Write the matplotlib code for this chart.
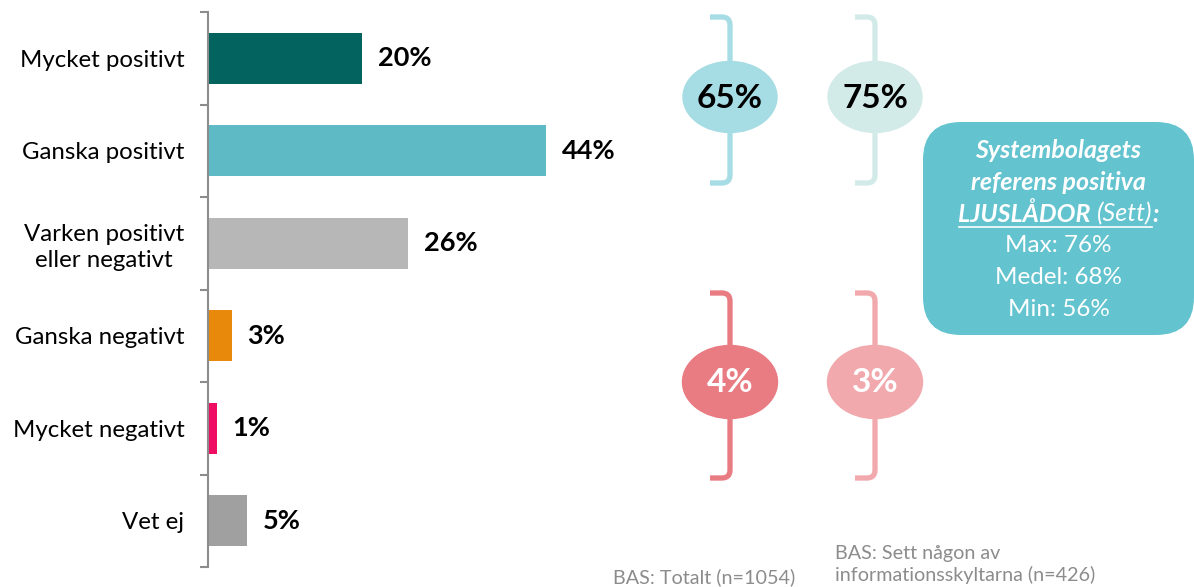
import matplotlib
matplotlib.use("Agg")
import matplotlib.pyplot as plt
from matplotlib.patches import Ellipse, FancyBboxPatch, PathPatch
from matplotlib.path import Path

# Survey answers
categories = ["Mycket positivt", "Ganska positivt", "Varken positivt\neller negativt",
              "Ganska negativt", "Mycket negativt", "Vet ej"]
shares = [20, 44, 26, 3, 1, 5]
bar_colors = ["#03635F", "#5EBBC6", "#B7B7B7", "#E8890C", "#EE0D62", "#A0A0A0"]

# Summed positive / negative shares per base
positive_totals = [65, 75]
negative_totals = [4, 3]
positive_colors = ["#A6DCE3", "#D2EAE8"]
negative_colors = ["#E97B82", "#F1A9AD"]
base_notes = ["BAS: Totalt (n=1054)", "BAS: Sett någon av\ninformationsskyltarna (n=426)"]

# Reference values for light boxes
ref_labels = ["Max", "Medel", "Min"]
ref_values = [76, 68, 56]

FONT = "Lato"
plt.rcParams["font.family"] = [FONT, "DejaVu Sans"]

W, H = 1194, 587
fig = plt.figure(figsize=(W / 100, H / 100), dpi=100)
fig.patch.set_facecolor("white")

# ---- bar chart ----
px_per_pct = 7.66
ax_left, ax_right = 208, 620
ax_top, ax_bot = 12, 567
ax = fig.add_axes([ax_left / W, (H - ax_bot) / H, (ax_right - ax_left) / W, (ax_bot - ax_top) / H])
ypos = list(range(len(categories)))
ax.barh(ypos, shares, height=0.55, color=bar_colors, left=0.15)
ax.set_xlim(0, (ax_right - ax_left) / px_per_pct)
ax.set_ylim(len(categories) - 0.5, -0.5)
for y, v in zip(ypos, shares):
    ax.text(v + 0.15 + 2.0, y, f"{v}%", va="center", ha="left",
            fontsize=19.5, fontweight="bold", color="black")
for s in ["top", "right", "bottom"]:
    ax.spines[s].set_visible(False)
ax.spines["left"].set_color("#8C8C8C")
ax.spines["left"].set_linewidth(1.5)
ax.set_xticks([])
ax.set_yticks(ypos)
ax.set_yticklabels(categories, fontsize=17.3, ha="right", multialignment="center",
                   linespacing=1.28)
ax.tick_params(axis="y", which="major", length=0, pad=17)
ax.set_yticks([i - 0.5 for i in range(len(categories) + 1)], minor=True)
ax.tick_params(axis="y", which="minor", length=6, width=1.5, color="#8C8C8C")
ax.patch.set_alpha(0)

# ---- overlay in pixel coordinates ----
ov = fig.add_axes([0, 0, 1, 1])
ov.set_xlim(0, W)
ov.set_ylim(H, 0)
ov.axis("off")
ov.patch.set_alpha(0)


def bracket(xc, ytop, ybot, color, arm=20, r=8):
    verts = [(xc - arm, ytop), (xc - r, ytop), (xc, ytop), (xc, ytop + r),
             (xc, ybot - r), (xc, ybot), (xc - r, ybot), (xc - arm, ybot)]
    codes = [Path.MOVETO, Path.LINETO, Path.CURVE3, Path.CURVE3,
             Path.LINETO, Path.CURVE3, Path.CURVE3, Path.LINETO]
    ov.add_patch(PathPatch(Path(verts, codes), fill=False, edgecolor=color,
                           lw=3.8, capstyle="butt", joinstyle="round"))


col_x = [730, 875]
for i, x in enumerate(col_x):
    bracket(x, 17, 183, positive_colors[i])
    ov.add_patch(Ellipse((x, 97), 94, 71, color=positive_colors[i], zorder=3))
    ov.text(x, 98, f"{positive_totals[i]}%", ha="center", va="center",
            fontsize=24, fontweight="bold", color="black", zorder=4)

    bracket(x, 293, 478, negative_colors[i])
    ov.add_patch(Ellipse((x, 382), 95, 73, color=negative_colors[i], zorder=3))
    ov.text(x, 383, f"{negative_totals[i]}%", ha="center", va="center",
            fontsize=24, fontweight="bold", color="white", zorder=4)

# base notes
ov.text(613, 577, base_notes[0], ha="left", va="center", fontsize=14.2, color="#8C8C8C")
ov.text(835, 564.5, base_notes[1], ha="left", va="center", fontsize=14.2,
        color="#8C8C8C", linespacing=1.24)

# reference box
bx0, bx1, by0, by1 = 923, 1194, 122, 335
ov.add_patch(FancyBboxPatch((bx0, by0), bx1 - bx0, by1 - by0,
                            boxstyle="round,pad=0,rounding_size=38",
                            facecolor="#63C3CF", edgecolor="none", zorder=2))
cx = (bx0 + bx1) / 2
title_size = 18
title_style = dict(ha="center", va="center", fontsize=title_size, color="white",
                   fontweight="bold", fontstyle="italic", zorder=4)
ov.text(cx, 151, "Systembolagets", **title_style)
ov.text(cx, 183, "referens positiva", **title_style)

# third title line: bold-italic word, italic parenthesis, underline under both
fig.canvas.draw()
r = fig.canvas.get_renderer()
parts = [("LJUSLÅDOR ", "bold"), ("(Sett)", "normal"), (":", "bold")]
tmp = []
for txt, wt in parts:
    t = ov.text(0, 214, txt, ha="left", va="center", fontsize=title_size, color="white",
                fontweight=wt, fontstyle="italic", zorder=4)
    tmp.append(t)
widths = [t.get_window_extent(r).width for t in tmp]
total = sum(widths)
x_start_px = ov.transData.transform((cx, 0))[0] - total / 2
xs_px = [x_start_px]
for w in widths[:-1]:
    xs_px.append(xs_px[-1] + w)
inv = ov.transData.inverted()
for t, xp in zip(tmp, xs_px):
    t.set_x(inv.transform((xp, 0))[0])
ul_x0 = inv.transform((xs_px[0], 0))[0]
ul_x1 = inv.transform((xs_px[2], 0))[0]
ov.plot([ul_x0, ul_x1], [227, 227], color="white", lw=1.2, zorder=4)

for j, (lab, val) in enumerate(zip(ref_labels, ref_values)):
    ov.text(cx, 246 + 31.5 * j, f"{lab}: {val}%", ha="center", va="center",
            fontsize=17.5, color="white", zorder=4)

fig.savefig("out.png", dpi=100)
